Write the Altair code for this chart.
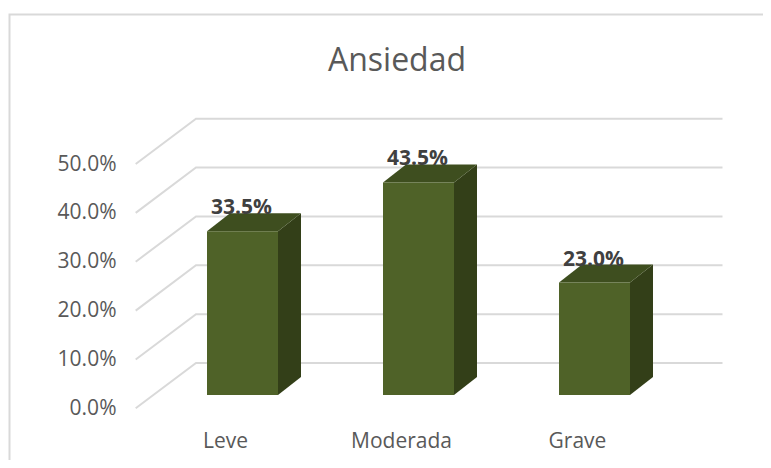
import altair as alt
import pandas as pd

categories = ["Leve", "Moderada", "Grave"]
values = [0.335, 0.435, 0.230]
grid_levels = [0.0, 0.1, 0.2, 0.3, 0.4, 0.5]
title_text = "Ansiedad"

W, H = 755, 452
PX_PER_CAT, PX_PER_UNIT = 176.0, 488.6
X0_PAGE, Y0_PAGE = 225.0, 408.3
FONT = "Open Sans"

def cx(page):
    return (page - X0_PAGE) / PX_PER_CAT

def vy(page):
    return (Y0_PAGE - page) / PX_PER_UNIT

x_dom = [cx(8), cx(8 + W)]
y_dom = [vy(8 + H), vy(8)]
xs = alt.Scale(domain=x_dom, range=[0, W], nice=False, zero=False)
ys = alt.Scale(domain=y_dom, range=[H, 0], nice=False, zero=False)

BAR_L, BAR_R = cx(207) - cx(225), cx(278) - cx(225)
DX = 23.0 / PX_PER_CAT
DY = 18.0 / PX_PER_UNIT
BASE = vy(395)
WALL = vy(363)

X = alt.X("x:Q", scale=xs, title=None,
          axis=alt.Axis(values=[0, 1, 2], domain=False, ticks=False, grid=False,
                        labelExpr="[" + ",".join(f"'{c}'" for c in categories) + "][datum.value]",
                        labelFontSize=21, labelColor="#595959", labelFont=FONT,
                        labelPadding=0, labelBaseline="middle", labelFlush=False,
                        offset=-(8 + H - 441)))
Y = alt.Y("y:Q", scale=ys, title=None,
          axis=alt.Axis(values=grid_levels, format=".1%", domain=False, ticks=False, grid=False,
                        labelFontSize=21, labelColor="#595959", labelFont=FONT,
                        labelPadding=0, labelAlign="right", labelFlush=False,
                        offset=-(116 - 8)))

# Grid: floor/side diagonals plus back wall lines
grid_rows = []
for lv in grid_levels:
    grid_rows += [
        dict(level=lv, o=0, x=cx(135.7), y=lv),
        dict(level=lv, o=1, x=cx(196), y=lv + WALL),
        dict(level=lv, o=2, x=cx(722.5), y=lv + WALL),
    ]
grid = alt.Chart(pd.DataFrame(grid_rows)).mark_line(color="#d9d9d9", strokeWidth=2).encode(
    x=X, y=Y, detail="level:N", order="o:Q")

# Frame (top and left edges, running off the page)
frame_df = pd.DataFrame([
    dict(o=0, x=cx(9.5), y=vy(8 + H)),
    dict(o=1, x=cx(9.5), y=vy(14.5)),
    dict(o=2, x=cx(8 + W), y=vy(14.5)),
])
frame = alt.Chart(frame_df).mark_line(color="#d9d9d9", strokeWidth=2).encode(
    x=alt.X("x:Q", scale=xs), y=alt.Y("y:Q", scale=ys), order="o:Q")

front_rows, side_rows, top_rows, label_rows = [], [], [], []
for i, (c, v) in enumerate(zip(categories, values)):
    l, r = i + BAR_L, i + BAR_R
    t = BASE + v
    front_rows.append(dict(cat=c, x=l, x2=r, y=BASE, y2=t))
    side_rows += [dict(cat=c, x=r, y=BASE, y2=t),
                  dict(cat=c, x=r + DX, y=BASE + DY, y2=t + DY)]
    top_rows += [dict(cat=c, x=l, y=t, y2=t),
                 dict(cat=c, x=l + DX, y=t, y2=t + DY),
                 dict(cat=c, x=r, y=t, y2=t + DY),
                 dict(cat=c, x=r + DX, y=t + DY, y2=t + DY)]
    label_rows.append(dict(cat=c, x=(l + r) / 2 - 1.0 / PX_PER_CAT, y=t + DY, value=v))

x_plain = alt.X("x:Q", scale=xs)
y_plain = alt.Y("y:Q", scale=ys)

side = alt.Chart(pd.DataFrame(side_rows)).mark_area(color="#333f18", interpolate="linear").encode(
    x=x_plain, y=y_plain, y2="y2:Q", detail="cat:N")
top = alt.Chart(pd.DataFrame(top_rows)).mark_area(color="#3e4e1f", interpolate="linear").encode(
    x=x_plain, y=y_plain, y2="y2:Q", detail="cat:N")
front = alt.Chart(pd.DataFrame(front_rows)).mark_rect(color="#4f6228").encode(
    x=x_plain, x2="x2:Q", y=y_plain, y2="y2:Q")
labels = alt.Chart(pd.DataFrame(label_rows)).mark_text(
    font=FONT, fontSize=21, fontWeight="bold", color="#404040", baseline="alphabetic", dy=1
).encode(x=x_plain, y=y_plain, text=alt.Text("value:Q", format=".1%"))

axes_layer = alt.Chart(pd.DataFrame({"x": [0.0], "y": [0.0]})).mark_point(opacity=0).encode(x=X, y=Y)

chart = alt.layer(axes_layer, frame, grid, side, top, front, labels).properties(
    width=W, height=H,
    padding=0,
    autosize=alt.AutoSizeParams(type="none"),
    title=alt.TitleParams(title_text, font=FONT, fontSize=32, fontWeight="normal", color="#595959",
                          anchor="middle", baseline="middle", dy=85, dx=397 - (8 + W / 2), offset=0),
).configure_view(stroke=None)

chart.save("out.html", embed_options={"renderer": "svg", "actions": False})
